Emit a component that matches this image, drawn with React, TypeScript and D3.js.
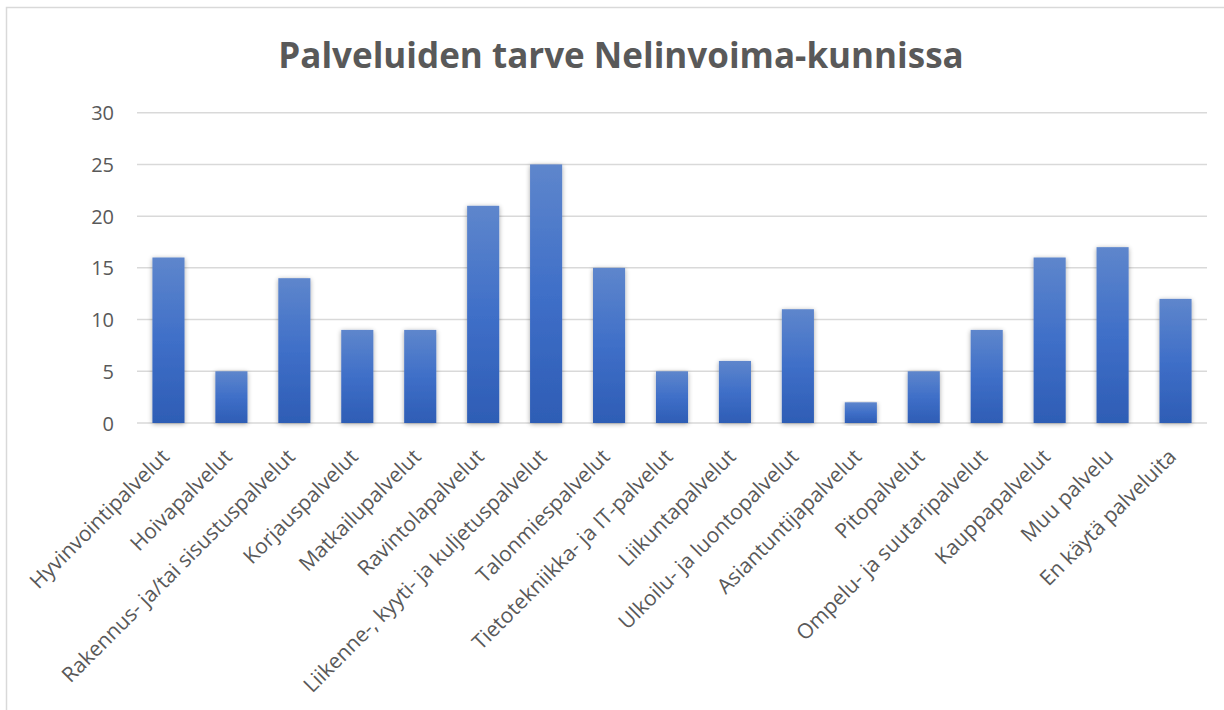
import React from "react";
import * as d3 from "d3";

const categories: string[] = [
  "Hyvinvointipalvelut",
  "Hoivapalvelut",
  "Rakennus- ja/tai sisustuspalvelut",
  "Korjauspalvelut",
  "Matkailupalvelut",
  "Ravintolapalvelut",
  "Liikenne-, kyyti- ja kuljetuspalvelut",
  "Talonmiespalvelut",
  "Tietotekniikka- ja IT-palvelut",
  "Liikuntapalvelut",
  "Ulkoilu- ja luontopalvelut",
  "Asiantuntijapalvelut",
  "Pitopalvelut",
  "Ompelu- ja suutaripalvelut",
  "Kauppapalvelut",
  "Muu palvelu",
  "En käytä palveluita",
];
const values: number[] = [16, 5, 14, 9, 9, 21, 25, 15, 5, 6, 11, 2, 5, 9, 16, 17, 12];
const yTicks: number[] = [0, 5, 10, 15, 20, 25, 30];
const title = "Palveluiden tarve Nelinvoima-kunnissa";

const W = 1224;
const H = 710;
const left = 137;
const right = 1207;
const top = 112.7;
const bottom = 423;
const font = "'Open Sans', 'DejaVu Sans', sans-serif";
const textColor = "#595959";

export default function App() {
  const x = d3.scaleBand<string>().domain(categories).range([left, right]).paddingInner(0.49).paddingOuter(0.245);
  const y = d3.scaleLinear().domain([0, 30]).range([bottom, top]);

  return (
    <svg width={W} height={H} style={{ position: "absolute", left: 0, top: 0 }} fontFamily={font}>
      <defs>
        <linearGradient id="barGrad" x1="0" y1="0" x2="0" y2="1">
          <stop offset="0" stopColor="#5E86CC" />
          <stop offset="0.5" stopColor="#3F6FC8" />
          <stop offset="1" stopColor="#2E5DB5" />
        </linearGradient>
        <filter id="shadow" x="-30%" y="-10%" width="160%" height="120%">
          <feGaussianBlur in="SourceAlpha" stdDeviation="2.5" />
          <feOffset dx="0" dy="1" result="b" />
          <feComponentTransfer>
            <feFuncA type="linear" slope="0.35" />
          </feComponentTransfer>
          <feMerge>
            <feMergeNode />
            <feMergeNode in="SourceGraphic" />
          </feMerge>
        </filter>
      </defs>
      <rect x={0} y={0} width={W} height={H} fill="#ffffff" />
      <rect x={6.5} y={7.5} width={W + 20} height={H + 20} fill="none" stroke="#d9d9d9" strokeWidth={1.5} />
      <text x={621} y={68} textAnchor="middle" fontSize={35} fontWeight="bold" fill={textColor}>
        {title}
      </text>
      {yTicks.map((t) => (
        <g key={t}>
          <line x1={left} x2={right} y1={y(t)} y2={y(t)} stroke="#d9d9d9" strokeWidth={1.5} />
          <text x={114} y={y(t)} textAnchor="end" dominantBaseline="central" fontSize={20} fill={textColor}>
            {t}
          </text>
        </g>
      ))}
      {categories.map((c, i) => (
        <rect
          key={c}
          x={x(c)!}
          y={y(values[i])}
          width={x.bandwidth()}
          height={bottom - y(values[i])}
          fill="url(#barGrad)"
          filter="url(#shadow)"
        />
      ))}
      {categories.map((c) => {
        const cx = x(c)! + x.bandwidth() / 2;
        const ax = cx + 2;
        const ay = 458;
        return (
          <text
            key={"l" + c}
            x={ax}
            y={ay}
            transform={`rotate(-45 ${ax} ${ay})`}
            textAnchor="end"
            fontSize={21}
            fill={textColor}
          >
            {c}
          </text>
        );
      })}
    </svg>
  );
}
